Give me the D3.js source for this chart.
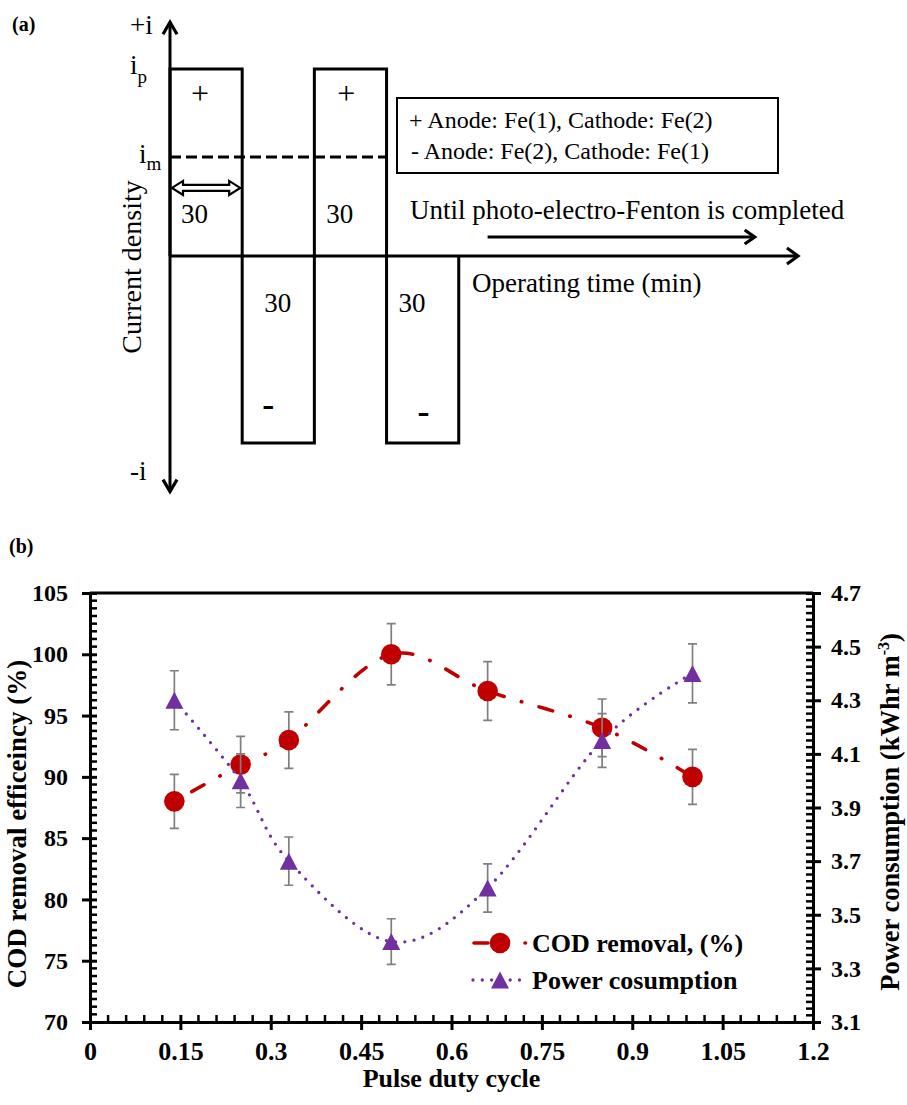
<!DOCTYPE html>
<html>
<head>
<meta charset="utf-8">
<script src="https://cdn.jsdelivr.net/npm/d3@7"></script>
<style>
  html, body { margin: 0; padding: 0; background: #fff; }
  svg { display: block; }
  text { font-family: "Liberation Serif", "Times New Roman", serif; }
</style>
</head>
<body>
<svg id="fig" width="907" height="1105"></svg>
<script>
// ---------- data ----------
// (a) pulse schematic: polarity of each 30-min pulse and mean current level
const pulseSigns = [1, -1, 1, -1];
const pulseMinutes = 30;
const meanLevel = 0.53;          // i_m relative to i_p
const arrowSpanMin = [132, 243]; // "until completed" arrow, minutes

// (b) duty-cycle experiment
const dutyCycle = [0.14, 0.25, 0.33, 0.5, 0.66, 0.85, 1.0];
const codRemoval = [88, 91, 93, 100, 97, 94, 90];
const codErr = [2.2, 2.3, 2.3, 2.5, 2.4, 2.35, 2.25];
const powerUse = [4.3, 4.0, 3.7, 3.4, 3.6, 4.15, 4.4];
const powerErr = [0.11, 0.10, 0.09, 0.085, 0.09, 0.10, 0.11];

const xTicks = [0, 0.15, 0.3, 0.45, 0.6, 0.75, 0.9, 1.05, 1.2];
const yLeftTicks = [70, 75, 80, 85, 90, 95, 100, 105];
const yRightTicks = [3.1, 3.3, 3.5, 3.7, 3.9, 4.1, 4.3, 4.5, 4.7];

const SERIF = '"Liberation Serif", "Times New Roman", serif';
const RED = "#C00000", PURPLE = "#7030A0", GREY = "#7F7F7F";

const svg = d3.select("#fig");
svg.append("rect").attr("width", 907).attr("height", 1105).attr("fill", "#fff");

// =====================================================================
// (a) current-density waveform
// =====================================================================
const A = svg.append("g");
const t = d3.scaleLinear().domain([0, 261]).range([170, 798]);
const cur = d3.scaleLinear().domain([-1, 1]).range([443, 69]);

A.append("text").attr("x", 12).attr("y", 31).attr("font-size", 20)
  .attr("font-weight", "bold").text("(a)");

// axes with open arrowheads
A.append("line").attr("x1", t(0)).attr("x2", t(0))
  .attr("y1", cur(1.25)).attr("y2", cur(-1.26))
  .attr("stroke", "#000").attr("stroke-width", 3);
A.append("line").attr("x1", t(0)).attr("x2", t(261))
  .attr("y1", cur(0)).attr("y2", cur(0))
  .attr("stroke", "#000").attr("stroke-width", 3);

function head(x0, y0, dx, dy, vertical) {
  const pts = vertical
    ? [[x0 - dx, y0 + dy], [x0, y0], [x0 + dx, y0 + dy]]
    : [[x0 + dx, y0 - dy], [x0, y0], [x0 + dx, y0 + dy]];
  A.append("path").attr("d", d3.line()(pts)).attr("fill", "none")
    .attr("stroke", "#000").attr("stroke-width", 3.2)
    .attr("stroke-linejoin", "miter");
}
head(t(0), cur(1.25), 7, 12, true);
head(t(0), cur(-1.26), 7, -12, true);
head(t(261), cur(0), -11, 8, false);

// square-wave pulses
const wave = [[0, 0]];
pulseSigns.forEach((s, k) => {
  wave.push([k * pulseMinutes, s], [(k + 1) * pulseMinutes, s]);
});
wave.push([pulseSigns.length * pulseMinutes, 0]);
A.append("path")
  .attr("d", d3.line().x(d => t(d[0])).y(d => cur(d[1]))(wave))
  .attr("fill", "none").attr("stroke", "#000").attr("stroke-width", 3)
  .attr("stroke-linejoin", "miter");

// mean current level
A.append("line").attr("x1", t(0)).attr("x2", t(3 * pulseMinutes))
  .attr("y1", cur(meanLevel)).attr("y2", cur(meanLevel))
  .attr("stroke", "#000").attr("stroke-width", 3)
  .attr("stroke-dasharray", "11,5");

// hollow double arrow spanning one pulse
{
  const y = cur(0.364), x0 = t(0) + 2, x1 = t(pulseMinutes) - 2, hl = 11, hw = 7, sw = 3;
  const pts = [[x0, y], [x0 + hl, y - hw], [x0 + hl, y - sw], [x1 - hl, y - sw], [x1 - hl, y - hw],
    [x1, y], [x1 - hl, y + hw], [x1 - hl, y + sw], [x0 + hl, y + sw], [x0 + hl, y + hw]];
  A.append("path").attr("d", d3.line()(pts) + "Z").attr("fill", "#fff")
    .attr("stroke", "#000").attr("stroke-width", 2.2).attr("stroke-linejoin", "miter");
}

// long arrow: runs until the process is completed
A.append("line").attr("x1", t(arrowSpanMin[0])).attr("x2", t(arrowSpanMin[1]) - 2)
  .attr("y1", 237).attr("y2", 237).attr("stroke", "#000").attr("stroke-width", 3);
A.append("path")
  .attr("d", d3.line()([[t(arrowSpanMin[1]) - 10, 230], [t(arrowSpanMin[1]), 237], [t(arrowSpanMin[1]) - 10, 244]]))
  .attr("fill", "none").attr("stroke", "#000").attr("stroke-width", 3.2);

const aText = (x, y, s, size = 27, anchor = "start") =>
  A.append("text").attr("x", x).attr("y", y).attr("font-size", size)
    .attr("text-anchor", anchor).text(s);

aText(130, 34, "+i");
aText(130, 480, "-i");
{
  const ip = A.append("text").attr("x", 130).attr("y", 74).attr("font-size", 27);
  ip.append("tspan").text("i");
  ip.append("tspan").attr("dy", 9).attr("font-size", 19).text("p");
  const im = A.append("text").attr("x", 139).attr("y", 163).attr("font-size", 27);
  im.append("tspan").text("i");
  im.append("tspan").attr("dy", 7).attr("font-size", 19).text("m");
}
// pulse duration labels
aText(t(0) + 11, 223, "30");
aText(t(2 * pulseMinutes) + 12, 223, "30");
aText(t(pulseMinutes) + 22, 312, "30");
aText(t(3 * pulseMinutes) + 12, 312, "30");
// polarity marks
aText(t(0) + 30, 104, "+", 32, "middle");
aText(t(2 * pulseMinutes) + 32, 104, "+", 32, "middle");
A.append("text").attr("x", t(pulseMinutes) + 26).attr("y", 416).attr("font-size", 36)
  .attr("font-weight", "bold").attr("text-anchor", "middle").text("-");
A.append("text").attr("x", t(3 * pulseMinutes) + 37).attr("y", 423).attr("font-size", 36)
  .attr("font-weight", "bold").attr("text-anchor", "middle").text("-");

A.append("text").attr("transform", "translate(141,267) rotate(-90)")
  .attr("font-size", 28).attr("text-anchor", "middle").text("Current density");

// electrode polarity box
A.append("rect").attr("x", 397).attr("y", 98).attr("width", 381).attr("height", 75)
  .attr("fill", "#fff").attr("stroke", "#000").attr("stroke-width", 2);
aText(409, 128, "+\u2009Anode: Fe(1), Cathode: Fe(2)", 24);
aText(411, 159, "- Anode: Fe(2), Cathode: Fe(1)", 24);

aText(410, 219, "Until photo-electro-Fenton is completed", 27);
aText(472, 292, "Operating time (min)", 27);

// =====================================================================
// (b) COD removal and power consumption vs. pulse duty cycle
// =====================================================================
const B = svg.append("g");
const x = d3.scaleLinear().domain([0, 1.2]).range([90, 813]);
const yL = d3.scaleLinear().domain([70, 105]).range([1022, 593]);
const yR = d3.scaleLinear().domain([3.1, 4.7]).range([1022, 593]);

B.append("text").attr("x", 9).attr("y", 553).attr("font-size", 20)
  .attr("font-weight", "bold").text("(b)");

// minor ticks
const minorL = d3.range(70, 105.0001, 5 / 8).filter(v => Math.abs(v / 5 - Math.round(v / 5)) > 1e-6);
const minorR = d3.range(3.1, 4.7001, 0.2 / 8).filter(v => Math.abs((v - 3.1) / 0.2 - Math.round((v - 3.1) / 0.2)) > 1e-6);
const minorX = d3.range(0, 1.2001, 0.03).filter(v => Math.abs(v / 0.15 - Math.round(v / 0.15)) > 1e-6);

B.append("g").selectAll("line").data(minorL).join("line")
  .attr("x1", x(0)).attr("x2", x(0) + 7).attr("y1", d => yL(d)).attr("y2", d => yL(d))
  .attr("stroke", "#000").attr("stroke-width", 2.5);
B.append("g").selectAll("line").data(minorR).join("line")
  .attr("x1", x(1.2) - 7).attr("x2", x(1.2)).attr("y1", d => yR(d)).attr("y2", d => yR(d))
  .attr("stroke", "#000").attr("stroke-width", 2.5);
B.append("g").selectAll("line").data(minorX).join("line")
  .attr("x1", d => x(d)).attr("x2", d => x(d)).attr("y1", yL(70) - 7).attr("y2", yL(70))
  .attr("stroke", "#000").attr("stroke-width", 2.5);

// top frame line
B.append("line").attr("x1", x(0)).attr("x2", x(1.2)).attr("y1", yL(105)).attr("y2", yL(105))
  .attr("stroke", "#000").attr("stroke-width", 3);

function styleAxis(g, size) {
  g.attr("font-family", SERIF);
  g.select(".domain").attr("stroke", "#000").attr("stroke-width", 3);
  g.selectAll(".tick line").attr("stroke", "#000").attr("stroke-width", 3);
  g.selectAll(".tick text").attr("fill", "#000").attr("font-size", size).attr("font-weight", "bold");
}

const gL = B.append("g").attr("transform", `translate(${x(0)},0)`)
  .call(d3.axisLeft(yL).tickValues(yLeftTicks).tickFormat(d3.format("d"))
    .tickSize(8).tickSizeOuter(0).tickPadding(14));
styleAxis(gL, 24);
gL.selectAll(".tick line").attr("x1", 7);

const gR = B.append("g").attr("transform", `translate(${x(1.2)},0)`)
  .call(d3.axisRight(yR).tickValues(yRightTicks).tickFormat(d3.format(".1f"))
    .tickSize(8).tickSizeOuter(0).tickPadding(10));
styleAxis(gR, 24);
gR.selectAll(".tick line").attr("x1", -7);

const gX = B.append("g").attr("transform", `translate(0,${yL(70)})`)
  .call(d3.axisBottom(x).tickValues(xTicks).tickFormat(d => String(d))
    .tickSize(8).tickSizeOuter(0).tickPadding(12));
styleAxis(gX, 26);
gX.selectAll(".tick line").attr("y1", -7);

// axis titles
B.append("text").attr("transform", "translate(26,824) rotate(-90)")
  .attr("font-size", 27).attr("font-weight", "bold").attr("text-anchor", "middle")
  .text("COD removal efficeincy (%)");
{
  const tt = B.append("text").attr("transform", "translate(899,812) rotate(-90)")
    .attr("font-size", 26.5).attr("font-weight", "bold").attr("text-anchor", "middle");
  tt.append("tspan").text("Power consumption (kWhr m");
  tt.append("tspan").attr("dy", -10).attr("font-size", 16).text("-3");
  tt.append("tspan").attr("dy", 10).text(")");
}
B.append("text").attr("x", (x(0) + x(1.2)) / 2).attr("y", 1087)
  .attr("font-size", 26).attr("font-weight", "bold").attr("text-anchor", "middle")
  .text("Pulse duty cycle");

// series
const cod = dutyCycle.map((d, i) => ({ x: d, y: codRemoval[i], e: codErr[i] }));
const pow = dutyCycle.map((d, i) => ({ x: d, y: powerUse[i], e: powerErr[i] }));

const CAP = 4.5;
function errorBars(data, y) {
  const g = B.append("g").attr("stroke", GREY).attr("stroke-width", 1.7).attr("fill", "none");
  data.forEach(d => {
    const xc = x(d.x), y0 = y(d.y - d.e), y1 = y(d.y + d.e);
    g.append("path").attr("d",
      `M${xc},${y0}V${y1}M${xc - CAP},${y0}H${xc + CAP}M${xc - CAP},${y1}H${xc + CAP}`);
  });
}
const tri = (cx, cy) => `M${cx},${cy - 8.5}L${cx + 9},${cy + 8.5}L${cx - 9},${cy + 8.5}Z`;

// COD removal: dash-dot smoothed line with round markers
B.append("path").datum(cod)
  .attr("d", d3.line().x(d => x(d.x)).y(d => yL(d.y)).curve(d3.curveCatmullRom.alpha(0)))
  .attr("fill", "none").attr("stroke", RED).attr("stroke-width", 3.6)
  .attr("stroke-linecap", "round").attr("stroke-dasharray", "14,18,0.5,18")
  .attr("stroke-dashoffset", -20);
errorBars(cod, yL);
B.append("g").selectAll("circle").data(cod).join("circle")
  .attr("cx", d => x(d.x)).attr("cy", d => yL(d.y)).attr("r", 10.3).attr("fill", RED);

// power consumption: dotted smoothed line with triangle markers
B.append("path").datum(pow)
  .attr("d", d3.line().x(d => x(d.x)).y(d => yR(d.y)).curve(d3.curveCatmullRom.alpha(0)))
  .attr("fill", "none").attr("stroke", PURPLE).attr("stroke-width", 3.3)
  .attr("stroke-linecap", "round").attr("stroke-dasharray", "0,9.3");
errorBars(pow, yR);
B.append("g").selectAll("path").data(pow).join("path")
  .attr("d", d => tri(x(d.x), yR(d.y))).attr("fill", PURPLE);

// legend
{
  const L = B.append("g");
  L.append("line").attr("x1", 474).attr("x2", 528).attr("y1", 943).attr("y2", 943)
    .attr("stroke", RED).attr("stroke-width", 3.6).attr("stroke-linecap", "round")
    .attr("stroke-dasharray", "14,37,0.5,100");
  L.append("circle").attr("cx", 500).attr("cy", 943).attr("r", 10.3).attr("fill", RED);
  L.append("text").attr("x", 532).attr("y", 952).attr("font-size", 26)
    .attr("font-weight", "bold").text("COD removal, (%)");

  L.append("line").attr("x1", 473).attr("x2", 522).attr("y1", 980).attr("y2", 980)
    .attr("stroke", PURPLE).attr("stroke-width", 3.3).attr("stroke-linecap", "round")
    .attr("stroke-dasharray", "0,9.3");
  L.append("path").attr("d", tri(500, 980)).attr("fill", PURPLE);
  L.append("text").attr("x", 532).attr("y", 989).attr("font-size", 26)
    .attr("font-weight", "bold").text("Power cosumption");
}
</script>
</body>
</html>
